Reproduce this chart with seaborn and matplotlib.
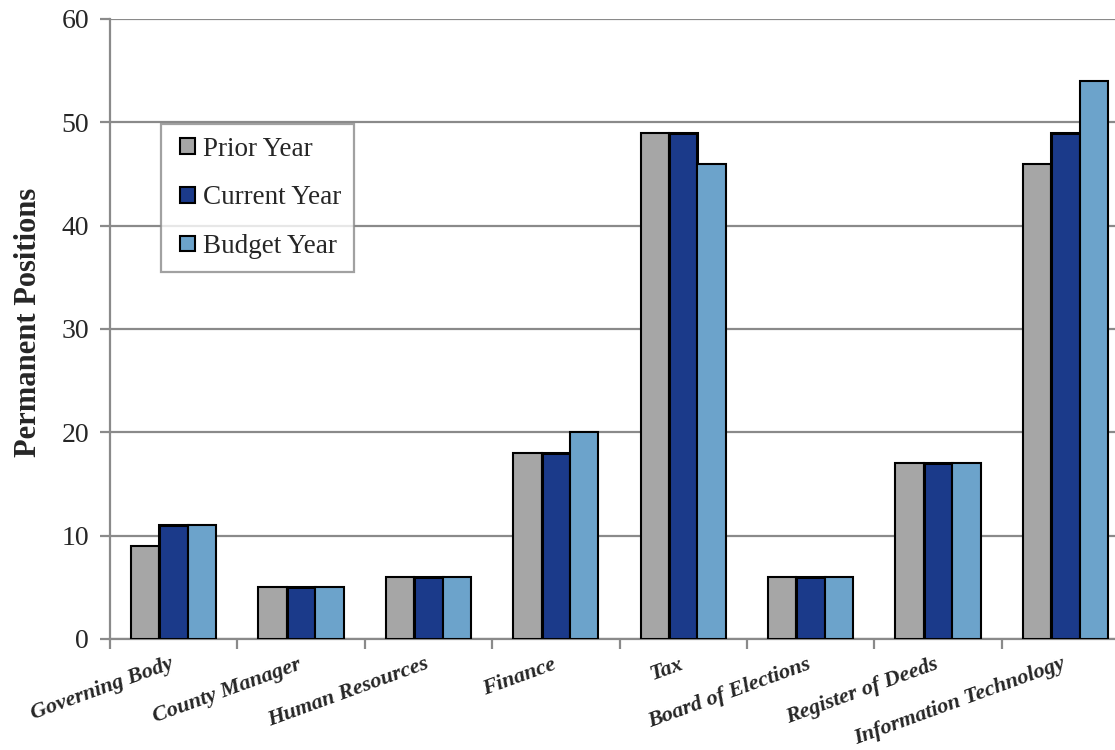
import matplotlib
matplotlib.use("Agg")
import matplotlib.pyplot as plt
import matplotlib.transforms as mtransforms
from matplotlib.patches import Rectangle
from matplotlib.legend_handler import HandlerPatch
import seaborn as sns
import pandas as pd

# Departments and permanent position counts per fiscal year
departments = ["Governing Body", "County Manager", "Human Resources", "Finance",
               "Tax", "Board of Elections", "Register of Deeds", "Information Technology"]
prior_year = [9, 5, 6, 18, 49, 6, 17, 46]
current_year = [11, 5, 6, 18, 49, 6, 17, 49]
budget_year = [11, 5, 6, 20, 46, 6, 17, 54]
series_names = ["Prior Year", "Current Year", "Budget Year"]
y_ticks = [0, 10, 20, 30, 40, 50, 60]

colors = ["#A6A6A6", "#1B3A8A", "#6CA3CB"]

df = pd.DataFrame({
    "Department": departments * 3,
    "Year": sum([[s] * len(departments) for s in series_names], []),
    "Positions": prior_year + current_year + budget_year,
})

sns.set_theme(style="white")
plt.rcParams["font.family"] = ["Liberation Serif", "DejaVu Serif"]

fig = plt.figure(figsize=(11.15, 7.5), dpi=100)
ax = fig.add_axes([110 / 1115, 1 - 639 / 750, 1019 / 1115, 620 / 750])

sns.barplot(data=df, x="Department", y="Positions", hue="Year",
            hue_order=series_names, order=departments, palette=colors,
            width=0.67, edgecolor="black", linewidth=1.5, saturation=1,
            ax=ax, zorder=3)
for bar in ax.containers[1]:
    bar.set_linewidth(2.2)

ax.set_ylim(0, 60)
ax.set_xlim(-0.5, len(departments) - 0.5)
ax.set_yticks(y_ticks)
ax.yaxis.grid(True, color="#8A8A8A", linewidth=1.6, zorder=0)
ax.set_axisbelow(True)

for side in ["top", "right"]:
    ax.spines[side].set_visible(False)
for side in ["left", "bottom"]:
    ax.spines[side].set_color("#8A8A8A")
    ax.spines[side].set_linewidth(1.6)

ax.tick_params(axis="y", which="major", direction="out", length=7, width=1.6,
               color="#8A8A8A", labelsize=20, pad=8, left=True)
ax.set_yticklabels([str(v) for v in y_ticks])

# Category boundaries as minor ticks; labels on the major ticks
ax.set_xticks([i - 0.5 for i in range(len(departments) + 1)], minor=True)
ax.tick_params(axis="x", which="minor", direction="out", length=7, width=1.6,
               color="#8A8A8A", bottom=True)
ax.tick_params(axis="x", which="major", length=0, pad=11)
ax.set_xticks(range(len(departments)))
ax.set_xticklabels(departments, rotation=20, ha="right", va="top",
                   rotation_mode="anchor", fontsize=16,
                   fontweight="bold", fontstyle="italic")
# nudge rotated labels so their ends sit on the category centres
nudge = mtransforms.ScaledTranslation(-4 / fig.dpi, 0, fig.dpi_scale_trans)
for lbl in ax.get_xticklabels():
    lbl.set_transform(lbl.get_transform() + nudge)

ax.set_xlabel("")
ax.set_ylabel("Permanent Positions", fontsize=22, fontweight="bold")
ax.yaxis.set_label_coords(-0.0657, 0.511)


def square_handle(legend, orig_handle, xdescent, ydescent, width, height, fontsize):
    # square swatch pushed to the right end of the handle box
    return Rectangle((-xdescent + width - height, -ydescent), height, height)


leg = ax.legend(loc="upper left", bbox_to_anchor=(0.05, 0.8306), fontsize=19.5,
                frameon=True, fancybox=False, edgecolor="#8A8A8A",
                handlelength=0.8, handleheight=0.52, handletextpad=0.3,
                labelspacing=0.875, borderpad=0.47, borderaxespad=0,
                handler_map={Rectangle: HandlerPatch(patch_func=square_handle)})
leg.get_frame().set_linewidth(1.6)
for h in leg.legend_handles:
    h.set_edgecolor("black")
    h.set_linewidth(1.5)

fig.savefig("out.png", dpi=100)
